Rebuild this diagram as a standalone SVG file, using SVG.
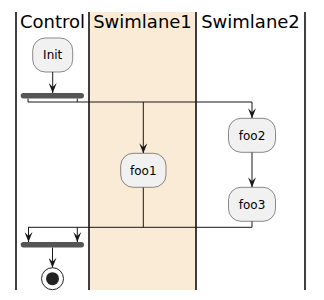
<svg xmlns="http://www.w3.org/2000/svg" width="324" height="300" viewBox="0 0 324 300">
<defs>
<marker id="arr" viewBox="0 0 10 8" refX="10" refY="4" markerWidth="10" markerHeight="8" markerUnits="userSpaceOnUse" orient="auto">
<path d="M0,0 L10,4 L0,8 L4,4 Z" fill="#181818"/>
</marker>
<style>
.lane{stroke:#000;stroke-width:1.5;fill:none}
.hdr{font-family:"DejaVu Sans",sans-serif;font-size:18px;fill:#000;text-anchor:middle}
.box{fill:#F1F1F1;stroke:#181818;stroke-width:0.5}
.lbl{font-family:"DejaVu Sans",sans-serif;font-size:12px;fill:#000;text-anchor:middle}
.bar{fill:#555555}
.ln{stroke:#181818;stroke-width:1;fill:none}
.ar{stroke:#181818;stroke-width:1;fill:none;marker-end:url(#arr)}
</style>
</defs>
<rect x="89" y="12" width="107" height="278" fill="#FAEBD7"/>
<g id="lanes">
<line class="lane" x1="16" y1="12" x2="16" y2="290"/>
<line class="lane" x1="89" y1="12" x2="89" y2="290"/>
<line class="lane" x1="196" y1="12" x2="196" y2="290"/>
<line class="lane" x1="305" y1="12" x2="305" y2="290"/>
<text class="hdr" x="52.5" y="28">Control</text>
<text class="hdr" x="142.5" y="28">Swimlane1</text>
<text class="hdr" x="250.5" y="28">Swimlane2</text>
</g>
<g id="connectors">
<line class="ar" x1="52.7" y1="72" x2="52.7" y2="93"/>
<polyline class="ln" points="28,98.5 28,102 252,102"/>
<line class="ln" x1="77.3" y1="98.5" x2="77.3" y2="102"/>
<line class="ar" x1="143.3" y1="102" x2="143.3" y2="153.3"/>
<line class="ar" x1="252" y1="102" x2="252" y2="118.3"/>
<line class="ar" x1="252" y1="152.3" x2="252" y2="187.3"/>
<polyline class="ln" points="252,221.3 252,227.3 28,227.3"/>
<line class="ln" x1="143.3" y1="187.3" x2="143.3" y2="227.3"/>
<line class="ar" x1="28.5" y1="227.3" x2="28.5" y2="242"/>
<line class="ar" x1="77.3" y1="227.3" x2="77.3" y2="242"/>
<line class="ar" x1="52.5" y1="247.5" x2="52.5" y2="267.7"/>
</g>
<g id="init">
<rect class="box" x="32.7" y="38" width="40" height="34" rx="12.5"/>
<text class="lbl" x="52.7" y="59.3">Init</text>
</g>
<g id="fork">
<rect class="bar" x="20.7" y="93" width="63.3" height="5.5" rx="2.75"/>
</g>
<g id="foo1">
<rect class="box" x="120.7" y="153.3" width="45.3" height="34" rx="12.5"/>
<text class="lbl" x="143.3" y="174.6">foo1</text>
</g>
<g id="foo2">
<rect class="box" x="228.5" y="118.3" width="47" height="34" rx="12.5"/>
<text class="lbl" x="252" y="139.6">foo2</text>
</g>
<g id="foo3">
<rect class="box" x="228.5" y="187.3" width="47" height="34" rx="12.5"/>
<text class="lbl" x="252" y="208.6">foo3</text>
</g>
<g id="join">
<rect class="bar" x="20.7" y="242" width="63.3" height="5.5" rx="2.75"/>
</g>
<g id="end">
<circle cx="52.5" cy="278.7" r="11" fill="none" stroke="#222222" stroke-width="1"/>
<circle cx="52.5" cy="278.7" r="6.5" fill="#222222"/>
</g>
</svg>
